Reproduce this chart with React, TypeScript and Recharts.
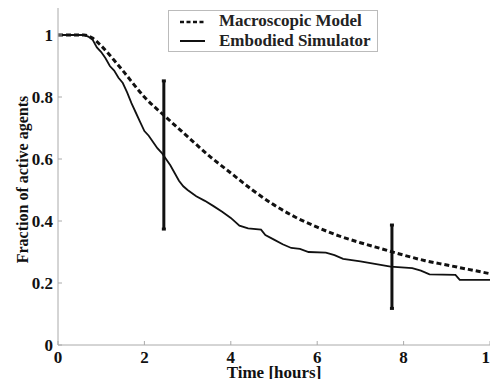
import { ComposedChart, Line, Scatter, ErrorBar, XAxis, YAxis } from 'recharts';

// time in hours
const macroTime = [0, 0.6, 0.8, 1.0, 1.35, 1.5, 2.0, 2.5, 3.0, 3.5, 4.0, 4.5, 5.0, 5.5, 6.0, 6.5, 7.0, 7.5, 8.0, 8.5, 9.0, 9.5, 10];
const macroValue = [1, 1, 0.99, 0.965, 0.91, 0.885, 0.8, 0.735, 0.672, 0.61, 0.555, 0.5, 0.452, 0.412, 0.38, 0.352, 0.33, 0.31, 0.29, 0.272, 0.258, 0.244, 0.23];

const embTime = [0, 0.6, 0.7, 0.8, 0.9, 1.0, 1.1, 1.2, 1.3, 1.4, 1.5, 1.6, 1.7, 1.8, 1.9, 2.0, 2.1, 2.2, 2.3, 2.4, 2.5, 2.6, 2.7, 2.8, 2.9, 3.0, 3.2, 3.4, 3.6, 3.8, 4.0, 4.2, 4.4, 4.7, 4.8, 5.0, 5.2, 5.4, 5.6, 5.8, 6.2, 6.4, 6.6, 7.0, 7.4, 7.7, 8.2, 8.4, 8.6, 9.2, 9.3, 10];
const embValue = [1, 1, 0.995, 0.985, 0.96, 0.945, 0.925, 0.9, 0.885, 0.862, 0.845, 0.815, 0.78, 0.75, 0.72, 0.69, 0.675, 0.655, 0.635, 0.62, 0.6, 0.58, 0.555, 0.53, 0.512, 0.5, 0.48, 0.465, 0.448, 0.43, 0.41, 0.385, 0.376, 0.372, 0.355, 0.34, 0.325, 0.313, 0.31, 0.3, 0.298, 0.29, 0.278, 0.27, 0.26, 0.253, 0.248, 0.24, 0.228, 0.226, 0.21, 0.21];

// error bars: centre and half range
const barTime = [2.45, 7.73];
const barMid = [0.613, 0.2525];
const barErr = [0.239, 0.1345];

const xTicks = [0, 2, 4, 6, 8, 10];
const yTicks = [0, 0.2, 0.4, 0.6, 0.8, 1];

const macroData = macroTime.map((t, i) => ({ t, v: macroValue[i] }));
const embData = embTime.map((t, i) => ({ t, v: embValue[i] }));
const barData = barTime.map((t, i) => ({ t, v: barMid[i], err: barErr[i] }));

const font = '"Liberation Serif", "Times New Roman", serif';

const XTick = (props: any) => (
    <text x={props.x} y={props.y} dy="0.7em" textAnchor="middle" fontFamily={font} fontWeight="bold" fontSize={17} fill="#111">
        {props.payload.value}
    </text>
);

const YTick = (props: any) => (
    <text x={props.x} y={props.y} dy="0.36em" textAnchor="end" fontFamily={font} fontWeight="bold" fontSize={17} fill="#111">
        {props.payload.value}
    </text>
);

const LegendBox = () => (
    <div style={{ position: 'absolute', left: 168, top: 10, border: '1px solid #bbb', background: '#fff', width: 210, height: 42, fontFamily: font, fontWeight: 'bold', fontSize: 17, color: '#222', boxSizing: 'border-box', lineHeight: '20px' }}>
        <div style={{ display: 'flex', alignItems: 'center', height: 20 }}>
            <svg width={50} height={20}><line x1={11} y1={11} x2={36} y2={11} stroke="#111" strokeWidth={2.5} strokeDasharray="4 2.5" /></svg>
            <span>Macroscopic Model</span>
        </div>
        <div style={{ display: 'flex', alignItems: 'center', height: 20 }}>
            <svg width={50} height={20}><line x1={11} y1={10} x2={36} y2={10} stroke="#111" strokeWidth={2} /></svg>
            <span>Embodied Simulator</span>
        </div>
    </div>
);

export default function App() {
    return (
        <div style={{ margin: -8, width: 498, height: 387, background: '#fff', position: 'relative', fontFamily: font }}>
            <ComposedChart width={498} height={387} margin={{ top: 4, right: 8, left: 0, bottom: 0 }}>
                <XAxis
                    type="number"
                    dataKey="t"
                    domain={[0, 10]}
                    ticks={xTicks}
                    allowDataOverflow
                    height={42}
                    stroke="#aaa"
                    tickSize={-4}
                    tickMargin={10}
                    tick={XTick}
                    label={{ value: 'Time [hours]', position: 'center', dy: 6, style: { fontFamily: font, fontWeight: 'bold', fontSize: 17, fill: '#111' } }}
                />
                <YAxis
                    type="number"
                    dataKey="v"
                    domain={[0, 1.1]}
                    ticks={yTicks}
                    allowDataOverflow
                    width={58}
                    stroke="#aaa"
                    tickSize={-4}
                    tickMargin={9}
                    tick={YTick}
                    label={{ value: 'Fraction of active agents', angle: -90, position: 'center', dx: -7, dy: 5, style: { fontFamily: font, fontWeight: 'bold', fontSize: 16, fill: '#111', textAnchor: 'middle' } }}
                />
                <Line data={macroData} dataKey="v" type="monotone" stroke="#111" strokeWidth={3} strokeDasharray="5 3" dot={false} isAnimationActive={false} />
                <Line data={embData} dataKey="v" type="linear" stroke="#111" strokeWidth={1.8} dot={false} isAnimationActive={false} />
                <Scatter data={barData} dataKey="v" shape={() => null} isAnimationActive={false}>
                    <ErrorBar dataKey="err" direction="y" width={2} stroke="#111" strokeWidth={3} isAnimationActive={false} />
                </Scatter>
            </ComposedChart>
            <LegendBox />
        </div>
    );
}
